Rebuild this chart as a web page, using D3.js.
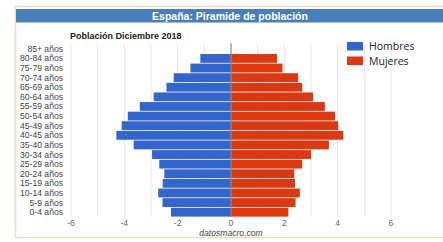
<!DOCTYPE html>
<html>
<head>
<meta charset="utf-8">
<script src="https://cdn.jsdelivr.net/npm/d3@7"></script>
<style>
  html, body { margin: 0; padding: 0; background: #fff; }
  svg { display: block; font-family: "Liberation Sans", Arial, sans-serif; }
</style>
</head>
<body>
<svg id="chart"></svg>
<script>
// age groups, top to bottom as in the picture
const ageGroups = ['85+ años', '80-84 años', '75-79 años', '70-74 años', '65-69 años', '60-64 años',
  '55-59 años', '50-54 años', '45-49 años', '40-45 años', '35-40 años', '30-34 años',
  '25-29 años', '20-24 años', '15-19 años', '10-14 años', '5-9 años', '0-4 años'];
// % of population (85+ has no bar in the source)
const hombres = [0, 1.15, 1.52, 2.15, 2.42, 2.90, 3.42, 3.87, 4.10, 4.30, 3.65, 2.96, 2.69, 2.50, 2.56, 2.73, 2.57, 2.25];
const mujeres = [0, 1.73, 1.93, 2.52, 2.67, 3.08, 3.52, 3.90, 4.02, 4.21, 3.67, 3.00, 2.67, 2.37, 2.40, 2.58, 2.42, 2.15];
const xTicks = [-6, -4, -2, 0, 2, 4, 6];
const xGrid = [-6, -5, -4, -3, -2, -1, 1, 2, 3, 4, 5, 6];
const seriesNames = ['Hombres', 'Mujeres'];
const colors = ['#3366cc', '#dc3912'];

const W = 443, H = 242;
const svg = d3.select('#chart').attr('width', W).attr('height', H);

// card + header
svg.append('rect')
  .attr('x', 15.5).attr('y', 6.5).attr('width', 440).attr('height', 231)
  .attr('fill', '#fff').attr('stroke', '#ecdcc4').attr('stroke-width', 1.5);
svg.append('rect')
  .attr('x', 16).attr('y', 9).attr('width', 430).attr('height', 13.5)
  .attr('fill', '#4a7ebb');
svg.append('text')
  .attr('x', 230).attr('y', 19.5)
  .attr('text-anchor', 'middle')
  .attr('font-size', '10.5px').attr('font-weight', 'bold').attr('fill', '#fff')
  .text('España: Piramide de población');

svg.append('text')
  .attr('x', 70).attr('y', 39)
  .attr('font-size', '9px').attr('font-weight', 'bold').attr('fill', '#222')
  .text('Población Diciembre 2018');

const x = d3.scaleLinear().domain([-6, 6]).range([71, 391]);
const y = d3.scaleBand().domain(ageGroups).range([44, 217]).paddingInner(0.08).paddingOuter(0.04);

// gridlines
svg.append('g').selectAll('line')
  .data(xGrid)
  .enter()
  .append('line')
  .attr('x1', d => x(d)).attr('x2', d => x(d))
  .attr('y1', 44).attr('y2', 217)
  .attr('stroke', '#e4e4e4').attr('stroke-width', 1);

// bars
svg.append('g').selectAll('rect')
  .data(ageGroups.map((a, i) => ({ a, v: hombres[i] })))
  .enter()
  .append('rect')
  .attr('x', d => x(-d.v))
  .attr('y', d => y(d.a))
  .attr('width', d => x(0) - x(-d.v))
  .attr('height', y.bandwidth())
  .attr('fill', colors[0]);

svg.append('g').selectAll('rect')
  .data(ageGroups.map((a, i) => ({ a, v: mujeres[i] })))
  .enter()
  .append('rect')
  .attr('x', x(0))
  .attr('y', d => y(d.a))
  .attr('width', d => x(d.v) - x(0))
  .attr('height', y.bandwidth())
  .attr('fill', colors[1]);

// zero line
svg.append('line')
  .attr('x1', x(0)).attr('x2', x(0))
  .attr('y1', 43).attr('y2', 217)
  .attr('stroke', '#888').attr('stroke-width', 1.2);

// y labels
svg.append('g').selectAll('text')
  .data(ageGroups)
  .enter()
  .append('text')
  .attr('x', 63)
  .attr('y', d => y(d) + y.bandwidth() / 2 + 3)
  .attr('text-anchor', 'end')
  .attr('font-size', '8.6px').attr('fill', '#444')
  .text(d => d);

// x axis labels
svg.append('g').selectAll('text')
  .data(xTicks)
  .enter()
  .append('text')
  .attr('x', d => x(d))
  .attr('y', 226)
  .attr('text-anchor', 'middle')
  .attr('font-size', '8.6px').attr('fill', '#666')
  .text(d => String(d));

svg.append('text')
  .attr('x', 231).attr('y', 236)
  .attr('text-anchor', 'middle')
  .attr('font-size', '8.6px').attr('font-style', 'italic').attr('fill', '#444')
  .text('datosmacro.com');

// legend
const legend = svg.append('g').selectAll('g')
  .data(seriesNames)
  .enter()
  .append('g')
  .attr('transform', (d, i) => `translate(347, ${42 + i * 14.5})`);
legend.append('rect')
  .attr('width', 16).attr('height', 8.5)
  .attr('fill', (d, i) => colors[i]);
legend.append('text')
  .attr('x', 22).attr('y', 8)
  .attr('font-size', '10.5px').attr('fill', '#222')
  .attr('font-family', '"Open Sans", sans-serif')
  .text(d => d);
</script>
</body>
</html>
